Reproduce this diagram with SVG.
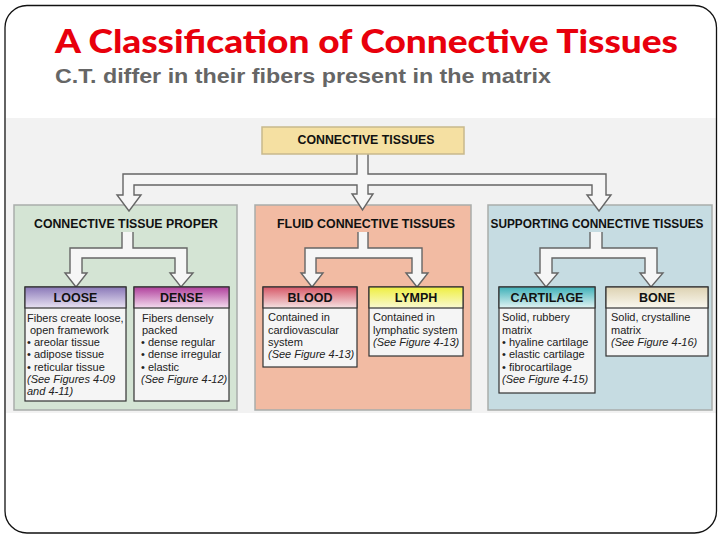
<svg xmlns="http://www.w3.org/2000/svg" width="720" height="540" viewBox="0 0 720 540">
<defs>
<linearGradient id="gLoose" x1="0" y1="0" x2="0" y2="1"><stop offset="0" stop-color="#8a78b8"/><stop offset="1" stop-color="#e8e2f2"/></linearGradient>
<linearGradient id="gDense" x1="0" y1="0" x2="0" y2="1"><stop offset="0" stop-color="#b0409c"/><stop offset="1" stop-color="#f4dcef"/></linearGradient>
<linearGradient id="gBlood" x1="0" y1="0" x2="0" y2="1"><stop offset="0" stop-color="#d65868"/><stop offset="1" stop-color="#f6e2e2"/></linearGradient>
<linearGradient id="gLymph" x1="0" y1="0" x2="0" y2="1"><stop offset="0" stop-color="#eeee40"/><stop offset="1" stop-color="#fafad2"/></linearGradient>
<linearGradient id="gCart" x1="0" y1="0" x2="0" y2="1"><stop offset="0" stop-color="#3eb0b8"/><stop offset="1" stop-color="#e2f4f4"/></linearGradient>
<linearGradient id="gBone" x1="0" y1="0" x2="0" y2="1"><stop offset="0" stop-color="#ddd2b2"/><stop offset="1" stop-color="#faf8f0"/></linearGradient>
</defs>
<style>
.title{font-family:Lato,"Open Sans","Liberation Sans",sans-serif;font-weight:900;font-size:32px;fill:#e8000c}
.sub{font-family:"Liberation Sans",Arial,sans-serif;font-weight:bold;font-size:20px;fill:#666666}
.hd{font-family:"Liberation Sans",Arial,sans-serif;font-weight:bold;font-size:12px;fill:#111111;text-anchor:middle}
.bh{font-family:"Liberation Sans",Arial,sans-serif;font-weight:bold;font-size:12.5px;fill:#111111;text-anchor:middle}
.tx{font-family:"Liberation Sans",Arial,sans-serif;font-size:11px;fill:#222222}
.it{font-style:italic}
.panel{stroke:#a9adab;stroke-width:1.5}
.box{stroke:#333333;stroke-width:1.2}
.body{fill:#f5f5f5;stroke:#333333;stroke-width:1.2}
.conn{fill:#f6f6f6;stroke:#666666;stroke-width:1.4;stroke-linejoin:miter}
</style>
<rect x="0" y="0" width="720" height="540" fill="#ffffff"/>
<rect x="6" y="118" width="710" height="295" fill="#f2f2f2"/>
<rect x="5" y="5.5" width="711.5" height="527.5" rx="22" fill="none" stroke="#111111" stroke-width="1.3"/>
<text class="title" x="55" y="53" textLength="623" lengthAdjust="spacingAndGlyphs">A Classification of Connective Tissues</text>
<text class="sub" x="55" y="83" textLength="496" lengthAdjust="spacingAndGlyphs">C.T. differ in their fibers present in the matrix</text>

<g id="panel-proper">
<rect class="panel" x="14" y="205" width="223" height="205" fill="#d4e4d4"/>
<text class="hd" x="126" y="228" textLength="184" lengthAdjust="spacingAndGlyphs">CONNECTIVE TISSUE PROPER</text>
</g>
<g id="panel-fluid">
<rect class="panel" x="255" y="205" width="216" height="205" fill="#f2bba3"/>
<text class="hd" x="366" y="228" textLength="178" lengthAdjust="spacingAndGlyphs">FLUID CONNECTIVE TISSUES</text>
</g>
<g id="panel-supporting">
<rect class="panel" x="488" y="205" width="224" height="205" fill="#c6dce2"/>
<text class="hd" x="597" y="228" textLength="213" lengthAdjust="spacingAndGlyphs">SUPPORTING CONNECTIVE TISSUES</text>
</g>

<g id="connectors">
<path class="conn" d="M357,150 V174 H123 V195 H117 L129,211 L141,195 H134 V185 H357 V194 H352 L362.5,210 L373,194 H368 V185 H592 V195 H587 L599,211 L611,195 H606 V174 H368 V150"/>
<path class="conn" d="M122,232 V248 H70 V273 H65 L76,287 L87,273 H82 V258 H175 V273 H170 L181,287 L193,273 H187 V248 H133 V232"/>
<path class="conn" d="M358,232 V248 H305 V273 H301 L312,287 L323,273 H316 V258 H412 V273 H406 L417,287 L428,273 H422 V248 H368 V232"/>
<path class="conn" d="M590,232 V248 H540 V273 H535 L546,287 L558,273 H552 V258 H645 V273 H640 L651,287 L663,273 H657 V248 H602 V232"/>
</g>

<g id="node-connective-tissues">
<rect x="262" y="127" width="202" height="27" fill="#f5e0a2" stroke="#c8b98c" stroke-width="1.5"/>
<text class="hd" x="366" y="144" textLength="137" lengthAdjust="spacingAndGlyphs">CONNECTIVE TISSUES</text>
</g>

<g id="node-loose">
<rect class="body" x="25" y="287" width="101" height="114"/>
<rect class="box" x="25" y="287" width="101" height="21" fill="url(#gLoose)"/>
<text class="bh" x="75.5" y="302">LOOSE</text>
<text class="tx" x="27" y="322">Fibers create loose,</text>
<text class="tx" x="30" y="334">open framework</text>
<text class="tx" x="27" y="346">• areolar tissue</text>
<text class="tx" x="27" y="358">• adipose tissue</text>
<text class="tx" x="27" y="371">• reticular tissue</text>
<text class="tx it" x="27" y="383">(See Figures 4-09</text>
<text class="tx it" x="27" y="395">and 4-11)</text>
</g>

<g id="node-dense">
<rect class="body" x="134" y="287" width="95" height="114"/>
<rect class="box" x="134" y="287" width="95" height="21" fill="url(#gDense)"/>
<text class="bh" x="181.5" y="302">DENSE</text>
<text class="tx" x="142" y="322">Fibers densely</text>
<text class="tx" x="142" y="334">packed</text>
<text class="tx" x="141" y="346">• dense regular</text>
<text class="tx" x="141" y="358">• dense irregular</text>
<text class="tx" x="141" y="371">• elastic</text>
<text class="tx it" x="141" y="383">(See Figure 4-12)</text>
</g>

<g id="node-blood">
<rect class="body" x="263" y="287" width="94" height="80"/>
<rect class="box" x="263" y="287" width="94" height="21" fill="url(#gBlood)"/>
<text class="bh" x="310" y="302">BLOOD</text>
<text class="tx" x="268" y="321">Contained in</text>
<text class="tx" x="268" y="334">cardiovascular</text>
<text class="tx" x="268" y="346">system</text>
<text class="tx it" x="268" y="358">(See Figure 4-13)</text>
</g>

<g id="node-lymph">
<rect class="body" x="369" y="287" width="94" height="69"/>
<rect class="box" x="369" y="287" width="94" height="21" fill="url(#gLymph)"/>
<text class="bh" x="416" y="302">LYMPH</text>
<text class="tx" x="373" y="321">Contained in</text>
<text class="tx" x="373" y="334">lymphatic system</text>
<text class="tx it" x="373" y="346">(See Figure 4-13)</text>
</g>

<g id="node-cartilage">
<rect class="body" x="499" y="287" width="96" height="106"/>
<rect class="box" x="499" y="287" width="96" height="21" fill="url(#gCart)"/>
<text class="bh" x="547" y="302">CARTILAGE</text>
<text class="tx" x="502" y="321">Solid, rubbery</text>
<text class="tx" x="502" y="334">matrix</text>
<text class="tx" x="502" y="346">• hyaline cartilage</text>
<text class="tx" x="502" y="358">• elastic cartilage</text>
<text class="tx" x="502" y="371">• fibrocartilage</text>
<text class="tx it" x="502" y="383">(See Figure 4-15)</text>
</g>

<g id="node-bone">
<rect class="body" x="606" y="287" width="102" height="69"/>
<rect class="box" x="606" y="287" width="102" height="21" fill="url(#gBone)"/>
<text class="bh" x="657" y="302">BONE</text>
<text class="tx" x="611" y="321">Solid, crystalline</text>
<text class="tx" x="611" y="334">matrix</text>
<text class="tx it" x="611" y="346">(See Figure 4-16)</text>
</g>
</svg>
